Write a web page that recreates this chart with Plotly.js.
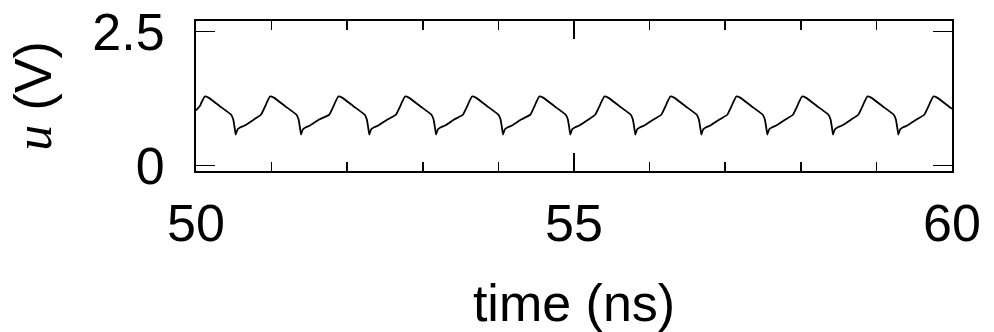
<!DOCTYPE html>
<html>
<head>
<meta charset="utf-8">
<script src="https://cdn.plot.ly/plotly-3.0.1.min.js"></script>
<style>html,body{margin:0;padding:0;background:#fff;}#chart{width:994px;height:332px;}</style>
</head>
<body>
<div id="chart"></div>
<script>
// time in ns
var timeNs = [
  50.000, 50.055, 50.070,
  50.115, 50.165, 50.315, 50.465, 50.493, 50.512, 50.525, 50.550, 50.595, 50.645, 50.765, 50.859, 50.919, 50.934,
  50.979, 51.029, 51.179, 51.329, 51.357, 51.376, 51.389, 51.414, 51.459, 51.509, 51.629, 51.762, 51.822, 51.837,
  51.882, 51.932, 52.082, 52.232, 52.260, 52.279, 52.292, 52.317, 52.362, 52.412, 52.532, 52.645, 52.705, 52.720,
  52.765, 52.815, 52.965, 53.115, 53.143, 53.162, 53.175, 53.200, 53.245, 53.295, 53.415, 53.531, 53.591, 53.606,
  53.651, 53.701, 53.851, 54.001, 54.029, 54.048, 54.061, 54.086, 54.131, 54.181, 54.301, 54.421, 54.481, 54.496,
  54.541, 54.591, 54.741, 54.891, 54.919, 54.938, 54.951, 54.976, 55.021, 55.071, 55.191, 55.281, 55.341, 55.356,
  55.401, 55.451, 55.601, 55.751, 55.779, 55.798, 55.811, 55.836, 55.881, 55.931, 56.051, 56.154, 56.214, 56.229,
  56.274, 56.324, 56.474, 56.624, 56.652, 56.671, 56.684, 56.709, 56.754, 56.804, 56.924, 57.027, 57.087, 57.102,
  57.147, 57.197, 57.347, 57.497, 57.525, 57.544, 57.557, 57.582, 57.627, 57.677, 57.797, 57.896, 57.956, 57.971,
  58.016, 58.066, 58.216, 58.366, 58.394, 58.413, 58.426, 58.451, 58.496, 58.546, 58.666, 58.760, 58.820, 58.835,
  58.880, 58.930, 59.080, 59.230, 59.258, 59.277, 59.290, 59.315, 59.360, 59.410, 59.530, 59.633, 59.693, 59.708,
  59.753, 59.803, 59.953, 60.000
];
// voltage u in V
var voltage = [
  1.03, 1.12, 1.17,
  1.29, 1.27, 1.11, 0.95, 0.86, 0.70, 0.58, 0.68, 0.72, 0.75, 0.86, 0.95, 1.12, 1.17,
  1.29, 1.27, 1.11, 0.95, 0.86, 0.70, 0.58, 0.68, 0.72, 0.75, 0.86, 0.95, 1.12, 1.17,
  1.29, 1.27, 1.11, 0.95, 0.86, 0.70, 0.58, 0.68, 0.72, 0.75, 0.86, 0.95, 1.12, 1.17,
  1.29, 1.27, 1.11, 0.95, 0.86, 0.70, 0.58, 0.68, 0.72, 0.75, 0.86, 0.95, 1.12, 1.17,
  1.29, 1.27, 1.11, 0.95, 0.86, 0.70, 0.58, 0.68, 0.72, 0.75, 0.86, 0.95, 1.12, 1.17,
  1.29, 1.27, 1.11, 0.95, 0.86, 0.70, 0.58, 0.68, 0.72, 0.75, 0.86, 0.95, 1.12, 1.17,
  1.29, 1.27, 1.11, 0.95, 0.86, 0.70, 0.58, 0.68, 0.72, 0.75, 0.86, 0.95, 1.12, 1.17,
  1.29, 1.27, 1.11, 0.95, 0.86, 0.70, 0.58, 0.68, 0.72, 0.75, 0.86, 0.95, 1.12, 1.17,
  1.29, 1.27, 1.11, 0.95, 0.86, 0.70, 0.58, 0.68, 0.72, 0.75, 0.86, 0.95, 1.12, 1.17,
  1.29, 1.27, 1.11, 0.95, 0.86, 0.70, 0.58, 0.68, 0.72, 0.75, 0.86, 0.95, 1.12, 1.17,
  1.29, 1.27, 1.11, 0.95, 0.86, 0.70, 0.58, 0.68, 0.72, 0.75, 0.86, 0.95, 1.12, 1.17,
  1.29, 1.27, 1.11, 1.06
];
var xTickVals = [50, 55, 60];
var xTickText = ['50', '55', '60'];
var yTickVals = [0, 2.5];
var yTickText = ['0', '2.5'];

var font = 'Liberation Sans, Arial, sans-serif';
Plotly.newPlot('chart', [{
  x: timeNs, y: voltage, type: 'scatter', mode: 'lines',
  line: {color: '#000', width: 1.8, shape: 'spline', smoothing: 0.3},
  hoverinfo: 'skip'
}], {
  width: 994, height: 332,
  margin: {l: 196, r: 42, t: 21, b: 161},
  paper_bgcolor: '#fff', plot_bgcolor: '#fff',
  showlegend: false,
  font: {family: font, color: '#000', size: 52},
  xaxis: {
    range: [50, 60], tickmode: 'array', tickvals: xTickVals, ticktext: xTickText,
    ticks: 'inside', ticklen: 18, tickwidth: 1.5, tickcolor: '#000',
    minor: {dtick: 1, ticks: 'inside', ticklen: 9, tickwidth: 1.5, tickcolor: '#000', showgrid: false},
    showline: true, linecolor: '#000', linewidth: 2, mirror: 'allticks',
    showgrid: false, zeroline: false, ticklabelstandoff: 6,
    tickfont: {family: font, size: 52, color: '#000'},
    title: {text: 'time (ns)', font: {family: font, size: 52, color: '#000'}, standoff: 37}
  },
  yaxis: {
    range: [-0.1, 2.70], tickmode: 'array', tickvals: yTickVals, ticktext: yTickText,
    ticks: 'inside', ticklen: 19, tickwidth: 1.5, tickcolor: '#000',
    showline: true, linecolor: '#000', linewidth: 2, mirror: 'allticks',
    showgrid: false, zeroline: false, ticklabelstandoff: 19,
    tickfont: {family: font, size: 52, color: '#000'},
    title: {text: '<span style="font-family:Liberation Serif, Times New Roman, serif"><i>u</i></span> (V)', font: {family: font, size: 52, color: '#000'}, standoff: 24}
  }
}, {staticPlot: true, displayModeBar: false});
</script>
</body>
</html>
